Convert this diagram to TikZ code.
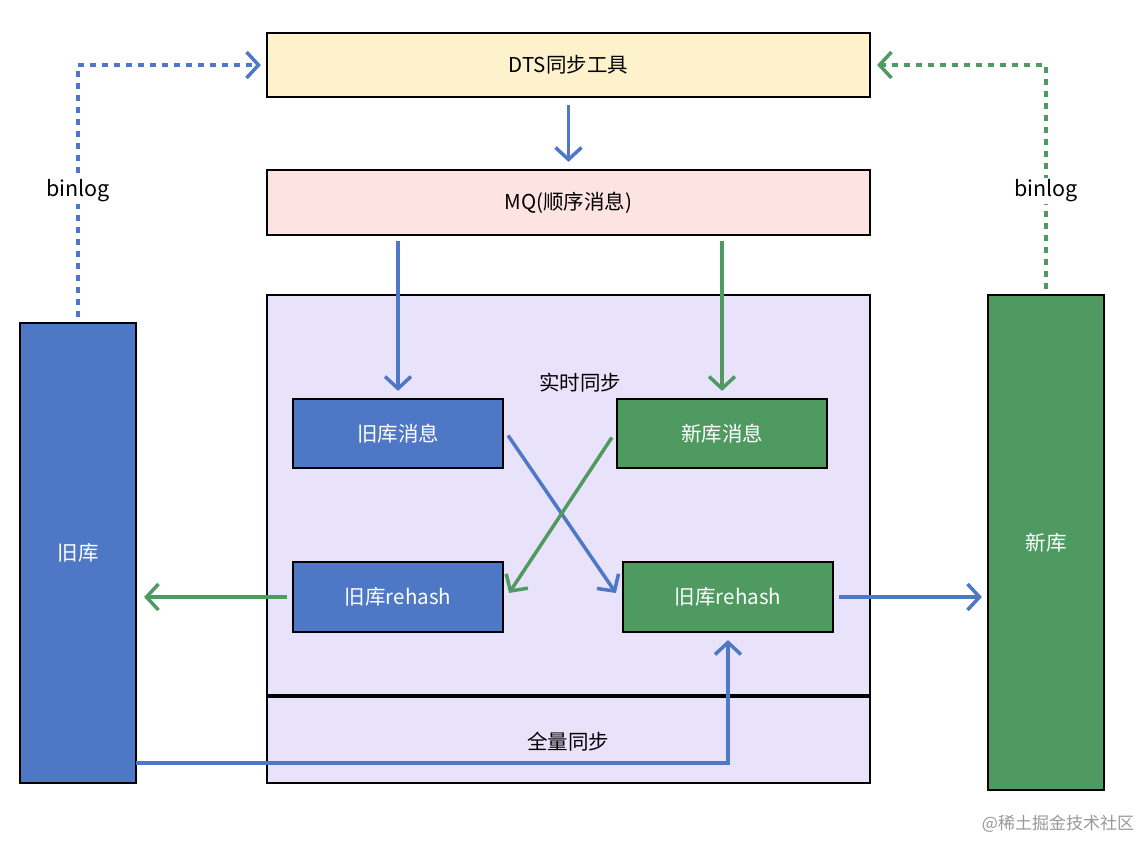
\documentclass[tikz,border=0pt]{standalone}
\usepackage{fontspec}
\setmainfont{Noto Sans CJK SC}
\usetikzlibrary{arrows.meta,calc}
\definecolor{dtsfill}{HTML}{FEF2CC}
\definecolor{mqfill}{HTML}{FEE3E3}
\definecolor{syncfill}{HTML}{E8E2FB}
\definecolor{myblue}{HTML}{4E78C5}
\definecolor{mygreen}{HTML}{4F9A60}
\begin{document}
\begin{tikzpicture}[x=1pt,y=-1pt,
  box/.style={draw=black,line width=2.2pt,inner sep=0pt,font=\fontsize{20.5}{24}\selectfont},
  wbox/.style={box,text=white},
  lbl/.style={inner sep=2pt,font=\fontsize{20.5}{24}\selectfont},
  tip/.style={-{Straight Barb[length=12pt,width=26pt,line width=3.5pt]}},
  conn/.style={tip,line width=3.5pt},
  dots/.style={tip,line width=4pt,dash pattern=on 6pt off 6pt}]
\useasboundingbox (0,0) rectangle (1144,841);
\fill[white] (0,0) rectangle (1144,841);

\node[box,fill=dtsfill,minimum width=603pt,minimum height=64pt] (dts) at (568.5,65) {DTS同步工具};
\node[box,fill=mqfill,minimum width=603pt,minimum height=65pt] (mq) at (568.5,202.5) {MQ(顺序消息)};
\node[box,fill=syncfill,minimum width=603pt,minimum height=400pt] (rt) at (568.5,495) {};
\node[box,fill=syncfill,minimum width=603pt,minimum height=88pt] (ql) at (568.5,739) {};
\draw[line width=4.5pt] (rt.south west) -- (rt.south east);
\node[lbl] (rtl) at (580,383) {实时同步};
\node[lbl] (qll) at (568,742) {全量同步};

\node[wbox,fill=myblue,minimum width=210pt,minimum height=69pt] (oldmsg) at (398,433.5) {旧库消息};
\node[wbox,fill=mygreen,minimum width=210pt,minimum height=69pt] (newmsg) at (722,433.5) {新库消息};
\node[wbox,fill=myblue,minimum width=210pt,minimum height=70pt] (bluerh) at (398,597) {旧库rehash};
\node[wbox,fill=mygreen,minimum width=210pt,minimum height=70pt] (greenrh) at (728,597) {旧库rehash};

\node[wbox,fill=myblue,minimum width=116pt,minimum height=460pt] (old) at (78,553) {旧库};
\node[wbox,fill=mygreen,minimum width=116pt,minimum height=495pt] (new) at (1046,542.5) {新库};

% connectors
\draw[conn,myblue,shorten <=7pt,shorten >=7pt] (dts) -- (mq);
\draw[conn,myblue,shorten <=5pt,shorten >=7pt] (mq.south -| oldmsg) -- (oldmsg.north);
\draw[conn,mygreen,shorten <=5pt,shorten >=7pt] (mq.south -| newmsg) -- (newmsg.north);
\draw[conn,myblue] ($(oldmsg.east)+(4,2)$) -- ($(greenrh.west)+(-6,-4)$);
\draw[conn,mygreen] ($(newmsg.west)+(-4,4)$) -- ($(bluerh.east)+(5,-4)$);
\draw[conn,mygreen,shorten <=5pt,shorten >=7pt] (bluerh.west) -- (bluerh.west -| old.east);
\draw[conn,myblue,shorten <=5pt,shorten >=5pt] (greenrh.east) -- (greenrh.east -| new.west);
\coordinate (fb) at (136,763);
\draw[conn,myblue,shorten >=7pt] (fb) -| (greenrh.south);

\draw[dots,myblue,shorten <=5pt,shorten >=5pt] (old.north) |- (dts.west);
\draw[dots,mygreen,shorten <=5pt,shorten >=6pt] (new.north) |- (dts.east);
\node[lbl,fill=white,font=\fontsize{21.5}{26}\selectfont] (bl1) at (78,191) {binlog};
\node[lbl,fill=white,font=\fontsize{21.5}{26}\selectfont] (bl2) at (1046,191) {binlog};

\node[text=black!40,font=\fontsize{17}{20}\selectfont] (wm) at (1058,824) {@稀土掘金技术社区};
\end{tikzpicture}
\end{document}
